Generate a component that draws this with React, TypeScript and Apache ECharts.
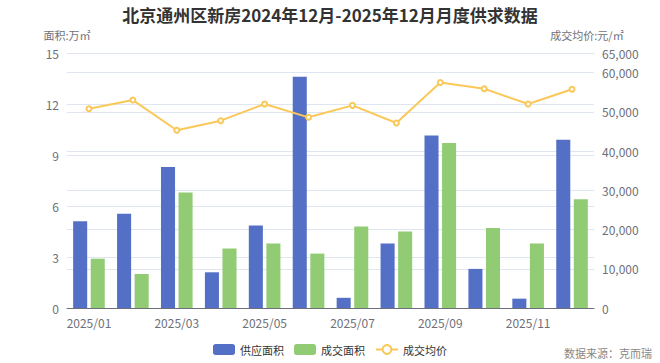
import React, { useEffect, useRef } from "react";
import * as echarts from "echarts";

const categories = ["2025/01","2025/02","2025/03","2025/04","2025/05","2025/06","2025/07","2025/08","2025/09","2025/10","2025/11","2025/12"];
const supplyArea = [5.1, 5.55, 8.3, 2.1, 4.85, 13.6, 0.6, 3.8, 10.15, 2.3, 0.55, 9.9];
const dealArea = [2.9, 2.0, 6.8, 3.5, 3.8, 3.2, 4.8, 4.5, 9.7, 4.7, 3.8, 6.4];
const avgPrice = [50800, 53000, 45300, 47750, 52000, 48600, 51650, 47150, 57500, 55900, 52000, 55750];

export default function App() {
  const ref = useRef<HTMLDivElement>(null);
  useEffect(() => {
    const chart = echarts.init(ref.current!, null, { renderer: "svg" });
    const font = "'Noto Sans CJK SC', 'Noto Sans', sans-serif";
    chart.setOption({
      animation: false,
      color: ["#5470c6", "#91cc75", "#fac858"],
      textStyle: { fontFamily: font },
      title: {
        text: "北京通州区新房2024年12月-2025年12月月度供求数据",
        left: "center",
        top: 1,
        textStyle: { fontSize: 17, fontWeight: "bold", color: "#333", fontFamily: font },
      },
      legend: {
        bottom: 3,
        left: "center",
        itemWidth: 22,
        itemHeight: 11,
        itemGap: 10,
        textStyle: { fontSize: 11, color: "#333", fontFamily: font },
        data: ["供应面积", "成交面积", "成交均价"],
      },
      graphic: [
        {
          type: "text",
          right: 8,
          bottom: 5,
          style: { text: "数据来源：克而瑞", fontSize: 11, fill: "#888", fontFamily: font },
        },
      ],
      grid: { left: 67, right: 66, top: 53, bottom: 55, outerBoundsMode: "none", containLabel: false },
      xAxis: {
        type: "category",
        data: categories,
        axisLine: { lineStyle: { color: "#6e7079" } },
        axisTick: { interval: 1 },
        axisLabel: { interval: 1, color: "#6e7079", fontSize: 12, fontFamily: font },
      },
      yAxis: [
        {
          type: "value",
          name: "面积:万㎡",
          nameGap: 13,
          nameTextStyle: { color: "#6e7079", fontSize: 11 },
          min: 0,
          max: 15,
          interval: 3,
          axisLabel: { color: "#6e7079", fontSize: 12 },
          splitLine: { lineStyle: { color: "#E0E6F1" } },
        },
        {
          type: "value",
          name: "成交均价:元/㎡",
          nameGap: 13,
          nameTextStyle: { color: "#6e7079", fontSize: 11, padding: [0, 14, 0, 0] },
          min: 0,
          max: 65000,
          interval: 10000,
          axisLabel: { color: "#6e7079", fontSize: 12, formatter: (v: number) => v.toLocaleString("en-US") },
          splitLine: { lineStyle: { color: "#E0E6F1" } },
        },
      ],
      series: [
        { name: "供应面积", type: "bar", data: supplyArea, barCategoryGap: "28%", barGap: "25%" },
        { name: "成交面积", type: "bar", data: dealArea, barCategoryGap: "28%", barGap: "25%" },
        {
          name: "成交均价",
          type: "line",
          yAxisIndex: 1,
          data: avgPrice,
          symbol: "emptyCircle",
          symbolSize: 5,
          lineStyle: { width: 2 },
        },
      ],
    });
    return () => chart.dispose();
  }, []);
  return <div ref={ref} style={{ width: 660, height: 363, position: "absolute", left: 0, top: 0 }} />;
}
